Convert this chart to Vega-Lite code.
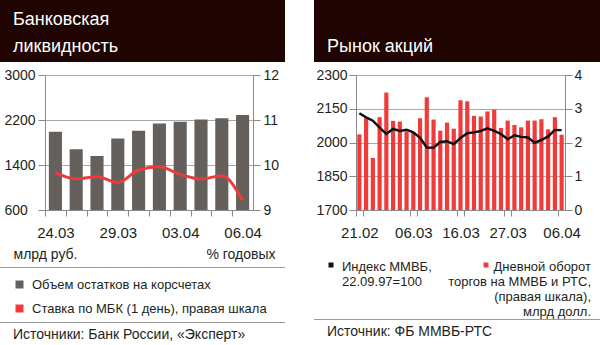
{
  "$schema": "https://vega.github.io/schema/vega-lite/v6.json",
  "padding": 0,
  "background": "white",
  "spacing": 29,
  "resolve": {"scale": {"color": "independent"}, "legend": {"color": "independent"}},
  "config": {
    "font": "Liberation Sans",
    "view": {"stroke": null},
    "axis": {"labelFontSize": 14, "labelColor": "#231f20", "domainColor": "#8a8a8a", "tickColor": "#8a8a8a", "gridColor": "#a8a8a8", "titleFontSize": 14, "titleFontWeight": "normal", "titleColor": "#231f20"},
    "legend": {"labelFontSize": 13, "labelColor": "#231f20"},
    "title": {"fontWeight": "normal"}
  },
  "hconcat": [
    {
      "spacing": 6,
      "resolve": {"scale": {"color": "independent"}, "legend": {"color": "independent"}},
      "title": {"text": "Источники: Банк России, «Эксперт»", "orient": "bottom", "anchor": "start", "dx": 13, "offset": 5, "fontSize": 14, "color": "#231f20", "baseline": "top"},
      "vconcat": [
        {
          "width": 285, "height": 62,
          "view": {"fill": "#1f0402", "stroke": null},
          "data": {"values": []},
          "mark": "rect",
          "title": {"text": ["Банковская", "ликвидность"], "orient": "bottom", "anchor": "start", "offset": -37, "dx": 13, "baseline": "alphabetic", "fontSize": 18, "lineHeight": 27, "color": "white"}
        },
        {
          "spacing": 3,
          "hconcat": [
            {"width": 1, "height": 1, "data": {"values": []}, "mark": "rect"},
            {
              "width": 208, "height": 135,
              "data": {"values": [
                {"d": "24.03", "v": 1990, "r": 9.83},
                {"d": "27.03", "v": 1680, "r": 9.69},
                {"d": "28.03", "v": 1560, "r": 9.74},
                {"d": "29.03", "v": 1870, "r": 9.61},
                {"d": "30.03", "v": 2010, "r": 9.89},
                {"d": "31.03", "v": 2140, "r": 9.96},
                {"d": "03.04", "v": 2170, "r": 9.79},
                {"d": "04.04", "v": 2210, "r": 9.69},
                {"d": "05.04", "v": 2230, "r": 9.76},
                {"d": "06.04", "v": 2290, "r": 9.21}
              ]},
              "layer": [
                {
                  "mark": {"type": "bar", "color": "#66605d", "clip": true},
                  "encoding": {
                    "x": {"field": "d", "type": "ordinal", "sort": null,
                      "scale": {"paddingInner": 0.37, "paddingOuter": 0.185},
                      "axis": {"title": null, "labelAngle": 0, "labelOverlap": false, "labelExpr": "indexof(['24.03','29.03','03.04','06.04'], datum.value) >= 0 ? datum.value : ''", "tickSize": 6, "tickOffset": -10.4, "labelOffset": 10.4, "labelPadding": 9, "labelFontSize": 15}},
                    "y": {"field": "v", "type": "quantitative",
                      "scale": {"domain": [600, 3000], "nice": false, "zero": false},
                      "axis": {"orient": "left", "values": [600, 1400, 2200, 3000], "format": "d", "grid": true, "tickSize": 7, "labelAlign": "left", "labelPadding": 34, "title": "млрд руб.", "titleAngle": 0, "titleAlign": "left", "titleBaseline": "alphabetic", "titleX": -32, "titleY": 183}}
                  }
                },
                {
                  "mark": {"type": "line", "color": "#ee3a3a", "strokeWidth": 3, "interpolate": "monotone"},
                  "encoding": {
                    "x": {"field": "d", "type": "ordinal", "sort": null,
                      "axis": {"title": null, "labelAngle": 0, "labelOverlap": false, "labelExpr": "indexof(['24.03','29.03','03.04','06.04'], datum.value) >= 0 ? datum.value : ''", "tickSize": 6, "tickOffset": -10.4, "labelOffset": 10.4, "labelPadding": 9, "labelFontSize": 15}},
                    "y": {"field": "r", "type": "quantitative",
                      "scale": {"domain": [9, 12], "nice": false, "zero": false},
                      "axis": {"orient": "right", "values": [9, 10, 11, 12], "format": "d", "grid": false, "tickSize": 7, "labelPadding": 3, "title": "% годовых", "titleAngle": 0, "titleAlign": "right", "titleBaseline": "alphabetic", "titleX": 22, "titleY": 183}}
                  }
                }
              ],
              "resolve": {"scale": {"y": "independent"}}
            }
          ]
        },
        {
          "width": 285, "height": 1,
          "view": {"fill": "#9a9a9a", "stroke": null},
          "data": {"values": []},
          "mark": "rect"
        },
        {
          "width": 285, "height": 41,
          "data": {"values": []},
          "mark": {"type": "square", "opacity": 1},
          "encoding": {
            "color": {"field": "s", "type": "nominal",
              "scale": {"domain": ["Объем остатков на корсчетах", "Ставка по МБК (1 день), правая шкала"], "range": ["#66605d", "#ee3a3a"]},
              "legend": {"orient": "none", "legendX": 13, "legendY": 4, "title": null, "symbolType": "square", "symbolSize": 64, "symbolStrokeWidth": 0, "labelOffset": 6, "rowPadding": 10, "labelLimit": 300}}
          }
        },
        {
          "width": 285, "height": 1,
          "view": {"fill": "#9a9a9a", "stroke": null},
          "data": {"values": []},
          "mark": "rect"
        }
      ]
    },
    {
      "spacing": 6,
      "resolve": {"scale": {"color": "independent"}, "legend": {"color": "independent"}},
      "title": {"text": "Источник: ФБ ММВБ-РТС", "orient": "bottom", "anchor": "start", "dx": 13, "offset": 5, "fontSize": 14, "color": "#231f20", "baseline": "top"},
      "vconcat": [
        {
          "width": 286, "height": 62,
          "view": {"fill": "#1f0402", "stroke": null},
          "data": {"values": []},
          "mark": "rect",
          "title": {"text": "Рынок акций", "orient": "bottom", "anchor": "start", "offset": -10, "dx": 13, "baseline": "alphabetic", "fontSize": 18, "color": "white"}
        },
        {
          "spacing": 0,
          "resolve": {"scale": {"color": "independent"}, "legend": {"color": "independent"}},
          "vconcat": [
            {
              "spacing": 1,
              "hconcat": [
                {"width": 1, "height": 1, "data": {"values": []}, "mark": "rect"},
                {
                  "width": 209, "height": 135,
                  "data": {"values": [
                    {"d": "21.02", "idx": 2130, "vol": 2.24},
                    {"d": "22.02", "idx": 2112, "vol": 2.72},
                    {"d": "24.02", "idx": 2097, "vol": 1.54},
                    {"d": "27.02", "idx": 2066, "vol": 2.75},
                    {"d": "28.02", "idx": 2038, "vol": 3.48},
                    {"d": "01.03", "idx": 2060, "vol": 2.64},
                    {"d": "02.03", "idx": 2051, "vol": 2.62},
                    {"d": "03.03", "idx": 2057, "vol": 2.33},
                    {"d": "06.03", "idx": 2045, "vol": 2.30},
                    {"d": "07.03", "idx": 2021, "vol": 2.72},
                    {"d": "09.03", "idx": 1978, "vol": 3.34},
                    {"d": "10.03", "idx": 1977, "vol": 2.68},
                    {"d": "13.03", "idx": 2002, "vol": 2.35},
                    {"d": "14.03", "idx": 2005, "vol": 2.59},
                    {"d": "15.03", "idx": 1993, "vol": 2.41},
                    {"d": "16.03", "idx": 2020, "vol": 3.25},
                    {"d": "17.03", "idx": 2041, "vol": 3.22},
                    {"d": "20.03", "idx": 2045, "vol": 2.79},
                    {"d": "21.03", "idx": 2051, "vol": 2.77},
                    {"d": "22.03", "idx": 2063, "vol": 2.92},
                    {"d": "23.03", "idx": 2052, "vol": 2.97},
                    {"d": "24.03", "idx": 2038, "vol": 2.43},
                    {"d": "27.03", "idx": 2014, "vol": 2.65},
                    {"d": "28.03", "idx": 2032, "vol": 2.52},
                    {"d": "29.03", "idx": 2025, "vol": 2.45},
                    {"d": "30.03", "idx": 2022, "vol": 2.65},
                    {"d": "31.03", "idx": 1999, "vol": 2.65},
                    {"d": "03.04", "idx": 2011, "vol": 2.69},
                    {"d": "04.04", "idx": 2027, "vol": 2.39},
                    {"d": "05.04", "idx": 2056, "vol": 2.75},
                    {"d": "06.04", "idx": 2055, "vol": 2.23}
                  ]},
                  "layer": [
                    {
                      "mark": {"type": "bar", "color": "#ef3b39"},
                      "encoding": {
                        "x": {"field": "d", "type": "ordinal", "sort": null,
                          "scale": {"paddingInner": 0.38, "paddingOuter": 0.19},
                          "axis": {"title": null, "labelAngle": 0, "labelOverlap": false, "values": ["21.02", "22.02", "06.03", "07.03", "16.03", "17.03", "27.03", "28.03", "06.04"], "labelExpr": "indexof(['21.02','06.03','16.03','27.03','06.04'], datum.value) >= 0 ? datum.value : ''", "tickSize": 6, "tickOffset": -3.371, "labelOffset": 3.371, "labelPadding": 9, "labelFontSize": 15}},
                        "y": {"field": "vol", "type": "quantitative",
                          "scale": {"domain": [0, 4], "nice": false},
                          "axis": {"orient": "right", "values": [0, 1, 2, 3, 4], "format": "d", "grid": false, "tickSize": 7, "labelPadding": 2, "title": null}}
                      }
                    },
                    {
                      "mark": {"type": "line", "color": "#111111", "strokeWidth": 2.5},
                      "encoding": {
                        "x": {"field": "d", "type": "ordinal", "sort": null,
                          "axis": {"title": null, "labelAngle": 0, "labelOverlap": false, "values": ["21.02", "22.02", "06.03", "07.03", "16.03", "17.03", "27.03", "28.03", "06.04"], "labelExpr": "indexof(['21.02','06.03','16.03','27.03','06.04'], datum.value) >= 0 ? datum.value : ''", "tickSize": 6, "tickOffset": -3.371, "labelOffset": 3.371, "labelPadding": 9, "labelFontSize": 15}},
                        "y": {"field": "idx", "type": "quantitative",
                          "scale": {"domain": [1700, 2300], "nice": false, "zero": false},
                          "axis": {"orient": "left", "values": [1700, 1850, 2000, 2150, 2300], "format": "d", "grid": true, "tickSize": 7, "labelAlign": "left", "labelPadding": 33, "title": null}}
                      }
                    }
                  ],
                  "resolve": {"scale": {"y": "independent"}}
                }
              ]
            },
            {
              "width": 286, "height": 60,
              "data": {"values": []},
              "layer": [
                {
                  "mark": {"type": "square", "opacity": 1},
                  "encoding": {
                    "color": {"field": "a", "type": "nominal",
                      "scale": {"domain": ["Индекс ММВБ,|22.09.97=100"], "range": ["#111111"]},
                      "legend": {"orient": "none", "legendX": 10.5, "legendY": 24, "title": null, "symbolType": "M-0.5,-1.6H0.5V-0.6H-0.5Z", "symbolSize": 100, "symbolStrokeWidth": 0, "labelOffset": 4.5, "labelLimit": 300, "labelExpr": "split(datum.label, '|')", "labelBaseline": "alphabetic", "labelLineHeight": 15.5}}
                  }
                },
                {
                  "mark": {"type": "square", "opacity": 1},
                  "encoding": {
                    "color": {"field": "b", "type": "nominal",
                      "scale": {"domain": ["Дневной оборот|торгов на ММВБ и РТС,|(правая шкала),|млрд долл."], "range": ["#ef3b39"]},
                      "legend": {"orient": "none", "legendX": 165.5, "legendY": 24, "title": null, "symbolType": "M-0.5,-1.6H0.5V-0.6H-0.5Z", "symbolSize": 100, "symbolStrokeWidth": 0, "labelOffset": 98.5, "labelLimit": 300, "labelAlign": "right", "labelExpr": "split(datum.label, '|')", "labelBaseline": "alphabetic", "labelLineHeight": 15.5}}
                  }
                }
              ],
              "resolve": {"scale": {"color": "independent"}, "legend": {"color": "independent"}}
            },
            {
              "width": 286, "height": 1,
              "view": {"fill": "#9a9a9a", "stroke": null},
              "data": {"values": []},
              "mark": "rect"
            }
          ]
        }
      ]
    }
  ]
}
